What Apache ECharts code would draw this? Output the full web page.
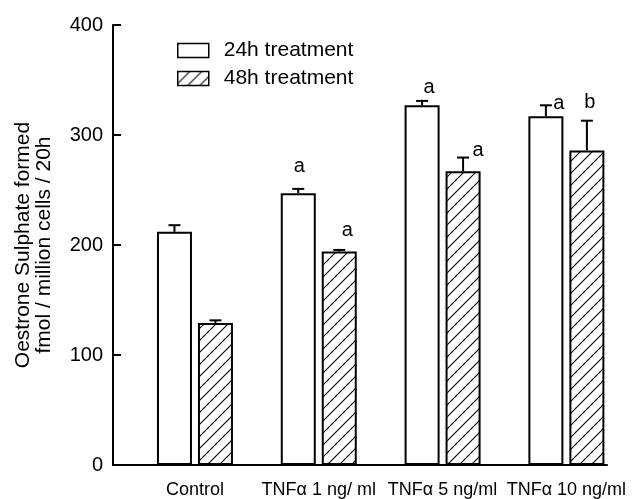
<!DOCTYPE html>
<html>
<head>
<meta charset="utf-8">
<script src="https://cdn.jsdelivr.net/npm/echarts@6/dist/echarts.min.js"></script>
<style>
  html, body { margin: 0; padding: 0; background: #fff; }
  #chart { width: 632px; height: 499px; }
</style>
</head>
<body>
<div id="chart"></div>
<script>
// Oestrone sulphate formation after TNFα treatment (mean + SEM)
const categories = ['Control', 'TNFα 1 ng/ ml', 'TNFα 5 ng/ml', 'TNFα 10 ng/ml'];
const seriesNames = ['24h treatment', '48h treatment'];
const values24h = [212, 247, 327, 317];
const errors24h = [6, 4, 4, 10];
const values48h = [129, 194, 267, 286];
const errors48h = [2.5, 1.5, 12.5, 27];
const letters24h = ['', 'a', 'a', 'a'];
const letters48h = ['', 'a', 'a', 'b'];
const yMin = 0, yMax = 400, yStep = 100;

// bar geometry (pixels)
const BAR_W = 35;
const BAR_GAP_PX = 6;
const HALF_SPACING = (BAR_W + BAR_GAP_PX) / 2;
const CAP_W = 12;
// placement of the significance letters relative to the error-bar cap
const letterOffsets24h = [[0, 0], [1, -22], [7, -13], [13, -2]];
const letterOffsets48h = [[0, 0], [8, -19], [15, -7], [3, -18]];

const FONT = '"Liberation Sans", Arial, Helvetica, sans-serif';

// diagonal hatch fill
function makeHatch() {
  const s = 12;
  const c = document.createElement('canvas');
  c.width = s; c.height = s;
  const g = c.getContext('2d');
  g.fillStyle = '#fff';
  g.fillRect(0, 0, s, s);
  g.strokeStyle = '#000';
  g.lineWidth = 1.1;
  g.beginPath();
  g.moveTo(-1, s + 1); g.lineTo(s + 1, -1);
  g.moveTo(-2, 2); g.lineTo(2, -2);
  g.moveTo(s - 2, s + 2); g.lineTo(s + 2, s - 2);
  g.stroke();
  return c;
}
const hatch = { image: makeHatch(), repeat: 'repeat' };

function toPoints(vals) { return vals.map((v, i) => [i, v]); }

function errorSeries(vals, errs, letters, offsets, side) {
  return {
    type: 'custom',
    z: 5,
    clip: false,
    silent: true,
    data: vals.map((v, i) => [i, v, errs[i]]),
    renderItem: function (params, api) {
      const i = params.dataIndex;
      const x = api.value(0), v = api.value(1), e = api.value(2);
      const base = api.coord([x, v]);
      const top = api.coord([x, v + e]);
      const cx = base[0] + side * HALF_SPACING;
      const children = [
        { type: 'line', shape: { x1: cx, y1: base[1], x2: cx, y2: top[1] },
          style: { stroke: '#000', lineWidth: 2 } },
        { type: 'line', shape: { x1: cx - CAP_W / 2, y1: top[1], x2: cx + CAP_W / 2, y2: top[1] },
          style: { stroke: '#000', lineWidth: 2 } }
      ];
      if (letters[i]) {
        children.push({
          type: 'text',
          style: {
            text: letters[i],
            x: cx + offsets[i][0], y: top[1] + offsets[i][1],
            align: 'center', verticalAlign: 'middle',
            font: '20px ' + FONT, fill: '#000'
          }
        });
      }
      return { type: 'group', children: children };
    }
  };
}

const chart = echarts.init(document.getElementById('chart'), null, { renderer: 'canvas' });
chart.setOption({
  backgroundColor: '#fff',
  animation: false,
  textStyle: { fontFamily: FONT, color: '#000' },
  grid: { left: 113, right: 25, top: 25, bottom: 32, containLabel: false },
  legend: {
    orient: 'vertical',
    left: 172, top: 35,
    itemWidth: 31, itemHeight: 14,
    itemGap: 7,
    icon: 'rect',
    selectedMode: false,
    data: seriesNames,
    itemStyle: { borderColor: '#000', borderWidth: 1.5 },
    textStyle: { fontSize: 21, color: '#000', fontFamily: FONT, padding: [0, 0, 0, 10], lineHeight: 21 }
  },
  xAxis: {
    type: 'value',
    min: -0.662, max: 3.328,
    splitLine: { show: false },
    axisTick: { show: false },
    axisLine: { show: true, onZero: false, lineStyle: { color: '#000', width: 2 } },
    axisLabel: {
      customValues: [0, 1, 2, 3],
      formatter: v => categories[Math.round(v)] || '',
      fontSize: 18, color: '#000', margin: 16, fontFamily: FONT
    }
  },
  yAxis: {
    type: 'value',
    min: yMin, max: yMax, interval: yStep,
    splitLine: { show: false },
    axisLine: { show: true, onZero: false, lineStyle: { color: '#000', width: 2 } },
    axisTick: { show: true, inside: true, length: 8, lineStyle: { color: '#000', width: 2 } },
    axisLabel: { fontSize: 20, color: '#000', margin: 10, fontFamily: FONT },
    name: 'Oestrone Sulphate formed\nfmol / million cells / 20h',
    nameLocation: 'middle',
    nameRotate: 90,
    nameGap: 58,
    nameTextStyle: { fontSize: 21, lineHeight: 21, color: '#000', fontFamily: FONT }
  },
  series: [
    {
      name: seriesNames[0], type: 'bar',
      data: toPoints(values24h),
      barWidth: BAR_W, barGap: (BAR_GAP_PX / BAR_W * 100).toFixed(1) + '%',
      itemStyle: { color: '#fff', borderColor: '#000', borderWidth: 2 }
    },
    {
      name: seriesNames[1], type: 'bar',
      data: toPoints(values48h),
      barWidth: BAR_W, barGap: (BAR_GAP_PX / BAR_W * 100).toFixed(1) + '%',
      itemStyle: { color: hatch, borderColor: '#000', borderWidth: 2 }
    },
    errorSeries(values24h, errors24h, letters24h, letterOffsets24h, -1),
    errorSeries(values48h, errors48h, letters48h, letterOffsets48h, 1)
  ]
});
</script>
</body>
</html>
